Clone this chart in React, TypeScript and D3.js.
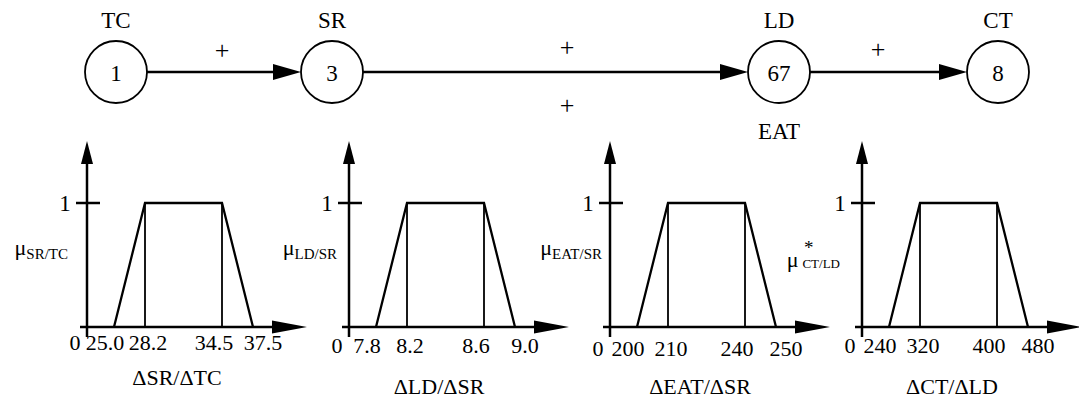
import React from "react";
import * as d3 from "d3";

// influence diagram
const nodeNames = ["TC", "SR", "LD", "CT"];
const nodeNumbers = ["1", "3", "67", "8"];
const edgeSigns = ["+", "+", "+"];
const sideInput = "EAT";
const sideSign = "+";

// membership functions
const muNames = ["SR/TC", "LD/SR", "EAT/SR", "CT/LD"];
const muStar = [false, false, false, true];
const xTitles = ["ΔSR/ΔTC", "ΔLD/ΔSR", "ΔEAT/ΔSR", "ΔCT/ΔLD"];
const breakpoints = [
  [0, 25.0, 28.2, 34.5, 37.5],
  [0, 7.8, 8.2, 8.6, 9.0],
  [0, 200, 210, 240, 250],
  [0, 240, 320, 400, 480],
];
const tickLabels = [
  ["0", "25.0", "28.2", "34.5", "37.5"],
  ["0", "7.8", "8.2", "8.6", "9.0"],
  ["0", "200", "210", "240", "250"],
  ["0", "240", "320", "400", "480"],
];
const grades = [0, 1, 1, 0];

// layout
const W = 1079;
const H = 399;
const FONT = "Liberation Serif";
const NODE_X = [116, 332, 779, 998];
const NODE_Y = 72;
const R = 31;
const PLUS_X = [222, 567, 878];
const PLUS_Y = [59, 56, 58];
const PANEL_X = [87, 349, 610, 862];
const SHAPE_RANGE = [0, 27, 58, 135, 166];
const LABEL_SHIFT = [-12, -9, 3, -8, 10];
const MU_END = [68, 337, 602, 840];
const TICK_Y = [350, 353, 356, 353];
const TITLE_Y = [385, 394, 394, 394];
const AXIS_LEN = 220;

const yScale = d3.scaleLinear().domain([0, 1]).range([327, 203]);

const Arrow = ({ x1, y1, x2, y2, len, half, sw }) => {
  const a = Math.atan2(y2 - y1, x2 - x1);
  const bx = x2 - len * Math.cos(a);
  const by = y2 - len * Math.sin(a);
  const px = -Math.sin(a) * half;
  const py = Math.cos(a) * half;
  return (
    <g>
      <line x1={x1} y1={y1} x2={bx} y2={by} stroke="#000" strokeWidth={sw} />
      <path d={`M${x2},${y2}L${bx + px},${by + py}L${bx - px},${by - py}Z`} fill="#000" />
    </g>
  );
};

const Panel = ({ i }) => {
  const x0 = PANEL_X[i];
  const xs = d3.scaleLinear().domain(breakpoints[i]).range(SHAPE_RANGE.map((d) => x0 + d));
  const pts = breakpoints[i].slice(1).map((v, k) => [xs(v), yScale(grades[k])]);
  const line = d3.line();
  const y0 = yScale(0);
  const y1 = yScale(1);
  return (
    <g>
      {/* y axis */}
      <Arrow x1={x0} y1={y0 + 10} x2={x0} y2={141} len={23} half={6} sw={2.5} />
      {/* x axis */}
      <Arrow x1={x0 - 7} y1={y0} x2={x0 + AXIS_LEN} y2={y0} len={35} half={6.5} sw={2.5} />
      {/* tick at 1 */}
      <line x1={x0 - 11} x2={x0 + 13} y1={y1} y2={y1} stroke="#000" strokeWidth={2.5} />
      <text x={x0 - 22} y={y1 + 8} fontSize={23} textAnchor="middle">1</text>
      {/* trapezoid */}
      <path d={line(pts)} fill="none" stroke="#000" strokeWidth={2.3} />
      {[1, 2].map((k) => (
        <line key={k} x1={pts[k][0]} x2={pts[k][0]} y1={y1} y2={y0} stroke="#000" strokeWidth={1.8} />
      ))}
      {/* tick labels */}
      {tickLabels[i].map((t, k) => (
        <text key={t + k} x={xs(breakpoints[i][k]) + LABEL_SHIFT[k]} y={TICK_Y[i]} fontSize={22} textAnchor="middle">
          {t}
        </text>
      ))}
      <text x={x0 + 90} y={TITLE_Y[i]} fontSize={22} textAnchor="middle">{xTitles[i]}</text>
      {/* membership label */}
      {muStar[i] ? (
        <g>
          <text x={MU_END[i]} y={267} textAnchor="end" fontSize={22}>
            μ<tspan fontSize={13} dx={4} dy={1}>{muNames[i]}</tspan>
          </text>
          <text x={MU_END[i] - 36} y={254} fontSize={19}>*</text>
        </g>
      ) : (
        <text x={MU_END[i]} y={255} textAnchor="end" fontSize={22}>
          μ<tspan fontSize={15} dy={4}>{muNames[i]}</tspan>
        </text>
      )}
    </g>
  );
};

export default function App() {
  return (
    <svg
      width={W}
      height={H}
      style={{ position: "absolute", left: 0, top: 0, background: "#fff", fontFamily: FONT }}
    >
      {/* nodes */}
      {nodeNames.map((n, i) => (
        <g key={n}>
          <circle cx={NODE_X[i]} cy={NODE_Y} r={R} fill="none" stroke="#000" strokeWidth={1.8} />
          <text x={NODE_X[i]} y={28} fontSize={23} textAnchor="middle">{n}</text>
          <text x={NODE_X[i]} y={81} fontSize={23} textAnchor="middle">{nodeNumbers[i]}</text>
        </g>
      ))}
      <text x={NODE_X[2]} y={139} fontSize={23} textAnchor="middle">{sideInput}</text>
      {/* edges */}
      {edgeSigns.map((s, i) => (
        <g key={i}>
          <Arrow x1={NODE_X[i] + R} y1={NODE_Y} x2={NODE_X[i + 1] - R} y2={NODE_Y} len={28} half={8} sw={2.5} />
          <text x={PLUS_X[i]} y={PLUS_Y[i]} fontSize={26} textAnchor="middle">{s}</text>
        </g>
      ))}
      <text x={PLUS_X[1]} y={114} fontSize={26} textAnchor="middle">{sideSign}</text>
      {breakpoints.map((_, i) => (
        <Panel key={i} i={i} />
      ))}
    </svg>
  );
}
